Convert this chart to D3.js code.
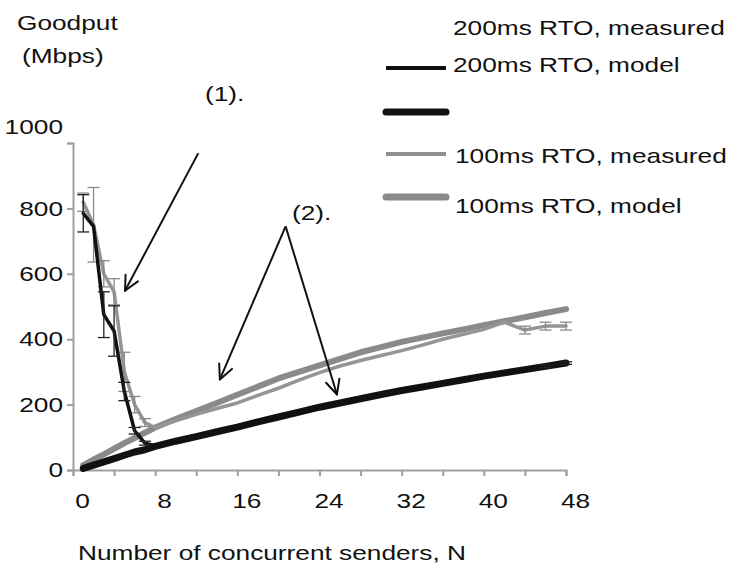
<!DOCTYPE html>
<html>
<head>
<meta charset="utf-8">
<script src="https://cdn.jsdelivr.net/npm/d3@7"></script>
<style>
  body { margin: 0; background: #fff; }
  text { font-family: "Liberation Sans", Arial, sans-serif; font-size: 21px; fill: #111; }
</style>
</head>
<body>
<div id="chart"></div>
<script>
// number of concurrent senders
const senders = [1,2,3,4,5,6,7,8,10,12,14,16,18,20,22,24,26,28,30,32,34,36,38,40,42,44,46,48];

// goodput (Mbps)
const rto200Measured = [785,745,475,425,240,120,82,74,88,102,117,131,147,162,177,192,205,218,231,243,254,265,276,287,297,307,317,327];
const rto200Model    = [5,15,25,35,45,55,62,72,88,102,117,131,147,162,177,192,205,218,231,243,254,265,276,287,297,307,317,327];
const rto100Measured = [819,750,600,545,300,200,145,130,150,170,188,205,228,250,275,298,318,335,350,365,382,400,415,430,452,428,440,440];
const rto100Model    = [15,32,48,65,82,98,114,130,156,180,205,230,255,280,300,320,340,360,376,392,405,418,430,443,455,467,480,492];

// error bar half widths (Mbps)
const rto200Err = [57,0,70,77,28,10,6,0,0,0,0,0,0,0,0,0,0,0,0,0,0,0,0,0,0,0,4,4];
const rto100Err = [28,114,40,40,60,25,12,0,0,0,0,0,0,0,0,0,0,0,0,0,0,0,0,0,0,12,12,12];

const xTickLabels = [0,8,16,24,32,40,48];
const yTickLabels = [0,200,400,600,800,1000];

// annotation arrows, in data units [N, Mbps]
const arrowStarts = [[12.2,969],[20.7,745],[20.7,745]];
const arrowEnds   = [[5.06,548],[14.3,277],[25.7,231]];

const legendLabels = ["200ms RTO, measured","200ms RTO, model","","100ms RTO, measured","100ms RTO, model"];

const svg = d3.select("#chart").append("svg").attr("width",729).attr("height",567);
const x = d3.scaleLinear().domain([0,48]).range([73,566]);
const y = d3.scaleLinear().domain([0,1000]).range([470,143]);
const stretch = "scale(1.25,1)";

function label(px, py, str) {
  svg.append("text").attr("transform",`translate(${px},${py}) ${stretch}`).text(str);
}

// axes
const xAxis = svg.append("g").attr("transform","translate(0,470)")
  .call(d3.axisBottom(x).tickValues(d3.range(0,49,4)).tickSize(6).tickPadding(17)
    .tickFormat(d => xTickLabels.includes(d) ? String(d) : ""));
xAxis.selectAll("text").attr("transform",`translate(9,0) ${stretch}`);

const yAxis = svg.append("g").attr("transform","translate(73,0)")
  .call(d3.axisLeft(y).tickValues(yTickLabels).tickSize(6).tickPadding(2).tickFormat(d => String(d)));
yAxis.selectAll("text").attr("transform",stretch).attr("dy",d => d === 1000 ? "-0.45em" : "0.32em");

svg.selectAll(".domain, .tick line").attr("stroke","#a0a0a0").attr("stroke-width",2);
svg.selectAll(".tick text").style("font-size","21px").style("font-family","'Liberation Sans', Arial, sans-serif").attr("fill","#111");

// series
const line = d3.line().x((d,i) => x(senders[i])).y(d => y(d));
function drawLine(vals, color, w) {
  svg.append("path").datum(vals).attr("d",line).attr("fill","none")
    .attr("stroke",color).attr("stroke-width",w)
    .attr("stroke-linejoin","round").attr("stroke-linecap","round");
}
function drawErr(vals, errs, color) {
  const g = svg.append("g").attr("stroke",color).attr("stroke-width",1.3);
  vals.forEach((v,i) => {
    const e = errs[i];
    if (!e) return;
    const cx = x(senders[i]);
    g.append("line").attr("x1",cx).attr("x2",cx).attr("y1",y(v-e)).attr("y2",y(v+e));
    g.append("line").attr("x1",cx-6).attr("x2",cx+6).attr("y1",y(v-e)).attr("y2",y(v-e));
    g.append("line").attr("x1",cx-6).attr("x2",cx+6).attr("y1",y(v+e)).attr("y2",y(v+e));
  });
}

drawLine(rto100Model, "#8a8a8a", 6);
drawLine(rto100Measured, "#959595", 3.5);
drawErr(rto100Measured, rto100Err, "#8a8a8a");
drawLine(rto200Model, "#111", 7);
drawLine(rto200Measured, "#111", 3.5);
drawErr(rto200Measured, rto200Err, "#222");

// arrows
arrowStarts.forEach((s,i) => {
  const e = arrowEnds[i];
  const x1 = x(s[0]), y1 = y(s[1]), x2 = x(e[0]), y2 = y(e[1]);
  svg.append("line").attr("x1",x1).attr("y1",y1).attr("x2",x2).attr("y2",y2)
    .attr("stroke","#111").attr("stroke-width",2);
  const a = Math.atan2(y1 - y2, x1 - x2);
  [-0.45, 0.45].forEach(da => {
    svg.append("line").attr("x1",x2).attr("y1",y2)
      .attr("x2",x2 + 16*Math.cos(a+da)).attr("y2",y2 + 16*Math.sin(a+da))
      .attr("stroke","#111").attr("stroke-width",2).attr("stroke-linecap","round");
  });
});

// titles and annotations
label(17, 30, "Goodput");
label(22, 63, "(Mbps)");
label(205, 101, "(1).");
label(292, 220, "(2).");
label(78, 560, "Number of concurrent senders, N");

// legend
const legendY = [35, 72, 0, 163, 213];
const legendSwatch = [null, {c:"#111",w:4,y:68}, {c:"#111",w:7,y:112}, {c:"#909090",w:4,y:154}, {c:"#8a8a8a",w:7,y:197}];
legendLabels.forEach((t,i) => {
  const sw = legendSwatch[i];
  if (sw) svg.append("line").attr("x1",386).attr("x2",446).attr("y1",sw.y).attr("y2",sw.y)
    .attr("stroke",sw.c).attr("stroke-width",sw.w).attr("stroke-linecap", sw.w > 5 ? "round" : "butt");
  if (t) label(i < 3 ? 453 : 455, legendY[i], t);
});
</script>
</body>
</html>
